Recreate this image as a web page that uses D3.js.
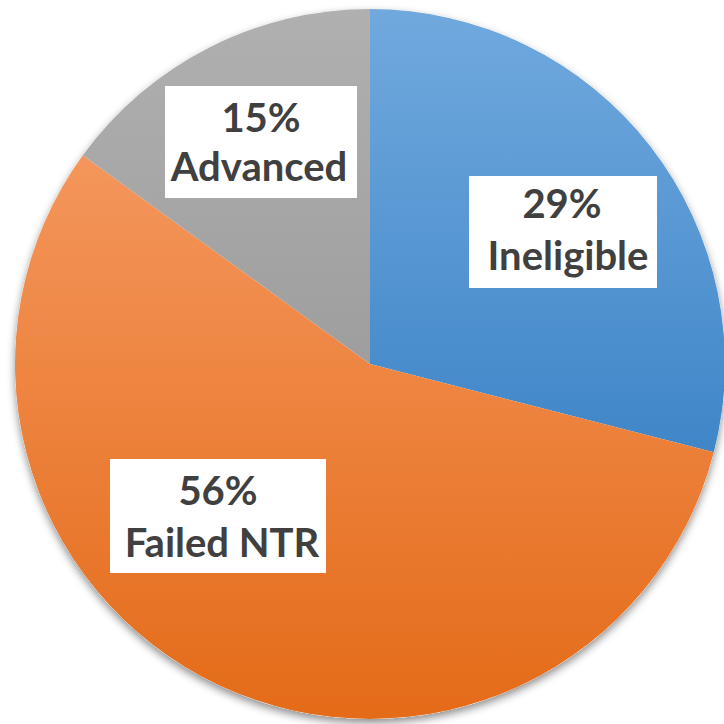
<!DOCTYPE html>
<html><head><meta charset="utf-8">
<script src="https://cdn.jsdelivr.net/npm/d3@7"></script>
<style>body{margin:0;background:#fff}svg{display:block}</style>
</head><body>
<svg id="c" width="724" height="724"></svg>
<script>
const categories = ["Ineligible", "Failed NTR", "Advanced"];
const values = [29, 56, 15];
const labels = ["29%", "56%", "15%"];
const colorsTop = ["#71a9de", "#f4965c", "#b0b0b0"];
const colorsBottom = ["#3f86c8", "#e46b18", "#9e9e9e"];

const svg = d3.select("#c");
const cx = 370, cy = 364, r = 355;
const defs = svg.append("defs");
const f = defs.append("filter").attr("id","sh").attr("x","-10%").attr("y","-10%").attr("width","120%").attr("height","120%");
f.append("feDropShadow").attr("dx",0).attr("dy",4).attr("stdDeviation",4).attr("flood-color","#000").attr("flood-opacity",0.45);
categories.forEach((c,i)=>{
  const g = defs.append("linearGradient").attr("id","g"+i).attr("x1",0).attr("y1",0).attr("x2",0).attr("y2",1);
  g.append("stop").attr("offset","0%").attr("stop-color",colorsTop[i]);
  g.append("stop").attr("offset","100%").attr("stop-color",colorsBottom[i]);
});
const pie = d3.pie().sort(null).value(d=>d)(values);
const arc = d3.arc().innerRadius(0).outerRadius(r);
const g = svg.append("g").attr("transform",`translate(${cx},${cy})`);
g.append("circle").attr("r",r).attr("fill","#fff").attr("filter","url(#sh)");
g.selectAll("path").data(pie).join("path").attr("d",arc).attr("fill",(d,i)=>`url(#g${i})`);

const boxes = [
  {x:469,y:176,w:188,h:112,b1:218,b2:270,c1:562,c2:568},
  {x:110,y:459,w:216,h:114,b1:505,b2:557,c1:218,c2:222},
  {x:165,y:86,w:192,h:112,b1:132,b2:181,c1:261,c2:259}
];
const lg = svg.append("g");
pie.forEach((d,i)=>{
  const b = boxes[i];
  lg.append("rect").attr("x",b.x).attr("y",b.y).attr("width",b.w).attr("height",b.h).attr("fill","#fff");
  lg.append("text").attr("x",b.c1).attr("y",b.b1).attr("text-anchor","middle")
    .attr("font-family","Lato, 'Open Sans', sans-serif").attr("font-weight","bold").attr("font-size",40).attr("fill","#404040").text(labels[i]);
  lg.append("text").attr("x",b.c2).attr("y",b.b2).attr("text-anchor","middle")
    .attr("font-family","Lato, 'Open Sans', sans-serif").attr("font-weight","bold").attr("font-size",40).attr("fill","#404040").text(categories[i]);
});
</script>
</body></html>
